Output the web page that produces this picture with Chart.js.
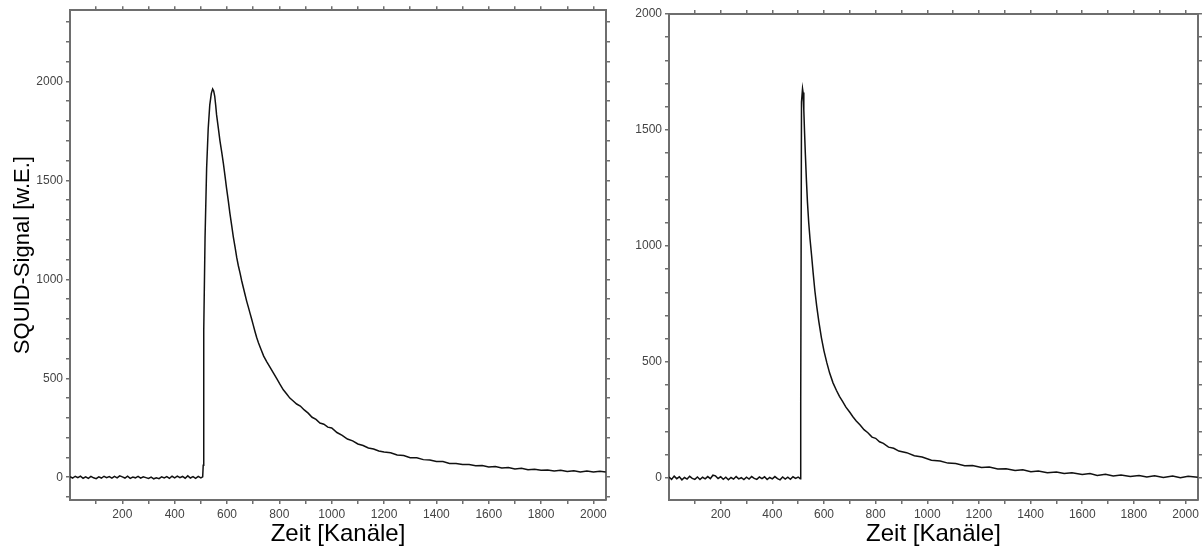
<!DOCTYPE html>
<html lang="de">
<head>
<meta charset="utf-8">
<title>SQUID-Signal</title>
<script src="https://cdn.jsdelivr.net/npm/chart.js@4.4.1/dist/chart.umd.min.js"></script>
<style>
    html, body { margin: 0; padding: 0; background: #fff; }
    #wrap { position: relative; width: 1202px; height: 550px; overflow: hidden; }
    #chartLinks { position: absolute; left: 0; top: 0; }
    #chartRechts { position: absolute; left: 620px; top: 0; }
</style>
</head>
<body>
<div id="wrap">
    <canvas id="chartLinks" width="620" height="550"></canvas>
    <canvas id="chartRechts" width="582" height="550"></canvas>
</div>
<script>
// linke Messung
const kanaeleLinks = [0, 10, 20, 30, 40, 50, 60, 70, 80, 90, 100, 110, 120, 130, 140, 150, 160, 170, 180, 190,
    200, 210, 220, 230, 240, 250, 260, 270, 280, 290, 300, 310, 320, 330, 340, 350, 360, 370, 380, 390,
    400, 410, 420, 430, 440, 450, 460, 470, 480, 490, 500, 507,
    509, 511, 516, 522, 528, 534, 540, 545, 549, 553, 557, 560, 567, 573, 580, 586, 592, 598, 605, 611,
    618, 624, 631, 637, 643, 650, 656, 662, 669, 675, 682, 688, 694, 700, 707, 713, 720, 730, 740, 752,
    764, 777, 790, 802, 815, 828, 840, 853, 866, 880, 895, 910, 925, 940, 955, 970, 985, 1000, 1020, 1040,
    1060, 1080, 1100, 1120, 1140, 1160, 1180, 1200, 1225, 1250, 1275, 1300, 1325, 1350, 1375, 1400, 1425, 1450, 1475, 1500,
    1525, 1550, 1575, 1600, 1625, 1650, 1675, 1700, 1725, 1750, 1775, 1800, 1825, 1850, 1875, 1900, 1925, 1950, 1975, 2000,
    2025, 2047];
const signalLinks = [3, -4, 5, -2, 6, -5, 2, -6, 4, -3, -7, 2, -4, 5, -2, 3, -5, 4, -3, 7,
    2, -4, 5, -6, 1, -3, 4, -5, 2, -2, -6, 1, -8, -3, -7, 2, -4, 3, -6, 5,
    -3, 6, -2, 4, -5, 7, -4, 3, -6, 4, -3, 2,
    60, 740, 1210, 1560, 1760, 1880, 1940, 1962, 1952, 1925, 1875, 1832, 1762, 1700, 1640, 1586, 1525, 1462, 1395, 1333,
    1270, 1215, 1160, 1111, 1070, 1030, 993, 960, 922, 890, 857, 828, 800, 770, 735, 707, 680, 645, 612, 583,
    556, 527, 498, 470, 442, 421, 400, 385, 370, 360, 340, 324, 303, 292, 274, 268, 253, 249, 226, 212,
    193, 184, 168, 160, 148, 143, 133, 128, 124, 112, 110, 99, 98, 89, 87, 80, 79, 70, 70, 65,
    64, 58, 59, 52, 54, 47, 49, 42, 45, 38, 40, 35, 37, 31, 35, 29, 33, 27, 31, 26,
    30, 26];

// rechte Messung
const kanaeleRechts = [0, 10, 20, 30, 40, 50, 60, 70, 80, 90, 100, 110, 120, 130, 140, 150, 160, 170, 180, 190,
    200, 210, 220, 230, 240, 250, 260, 270, 280, 290, 300, 310, 320, 330, 340, 350, 360, 370, 380, 390,
    400, 410, 420, 430, 440, 450, 460, 470, 480, 490, 500, 508,
    510, 513, 517, 519, 522, 525, 528, 532, 536, 541, 546, 552, 558, 565, 572, 580, 590, 600, 611, 622,
    635, 648, 660, 672, 685, 700, 712, 725, 740, 755, 770, 786, 800, 815, 830, 850, 870, 890, 920, 950,
    980, 1016, 1050, 1080, 1110, 1145, 1175, 1210, 1240, 1273, 1305, 1340, 1370, 1401, 1430, 1465, 1500, 1530, 1560, 1600,
    1630, 1658, 1690, 1720, 1750, 1786, 1820, 1850, 1880, 1914, 1950, 1980, 2010, 2047];
const signalRechts = [4, -6, 8, -3, 5, -8, 2, -5, 7, -2, -6, 4, -7, 3, -4, 6, -3, 12, 9, -2,
    5, -6, 3, -8, 2, -5, 6, -4, 1, -7, 3, -5, 6, -2, -6, 4, -3, 5, -7, 2,
    -4, 6, -3, -8, 4, -5, 3, -6, 5, -2, 4, -3,
    330, 1620, 1678, 1662, 1585, 1485, 1395, 1285, 1190, 1100, 1030, 960, 885, 805, 740, 675, 605, 548, 497, 452,
    410, 378, 352, 330, 305, 283, 264, 246, 228, 208, 195, 176, 171, 156, 149, 133, 128, 116, 109, 96,
    90, 76, 73, 64, 62, 53, 54, 45, 47, 39, 40, 32, 35, 27, 30, 23, 26, 19, 22, 15,
    19, 11, 16, 9, 13, 6, 11, 4, 9, 2, 8, 1, 7, 3];

// Achsen
const xMin = 0;
const xMax = 2048;
const xLabels = [200, 400, 600, 800, 1000, 1200, 1400, 1600, 1800, 2000];
const yLabels = [0, 500, 1000, 1500, 2000];
const yRangeLinks = [-115, 2360];
const yRangeRechts = [-95, 2000];

const axisColor = '#6e6e6e';
const tickFont = { family: 'Liberation Sans', size: 12 };

// Striche alle 100 Einheiten, selbst gesetzt (Chart.js verschiebt sonst den letzten Strich)
function hundreds(scale) {
    const ticks = [];
    for (let v = Math.ceil(scale.min / 100) * 100; v <= scale.max; v += 100) {
        if (v > scale.min) ticks.push({ value: v });
    }
    scale.ticks = ticks;
}

function toPoints(xs, ys) {
    const pts = [];
    for (let i = 0; i < xs.length; i++) {
        pts.push({ x: xs[i], y: ys[i] });
    }
    return pts;
}

function baseAxis(extra) {
    return Object.assign({
        type: 'linear',
        grid: { drawOnChartArea: false, drawTicks: true, tickLength: 4, color: axisColor, lineWidth: 1.5 },
        border: { display: true, color: axisColor, width: 2 },
        afterBuildTicks: hundreds
    }, extra);
}

function makeChart(id, xs, ys, yRange, sizes, yTitle) {
    const ctx = document.getElementById(id).getContext('2d');
    return new Chart(ctx, {
        type: 'line',
        data: {
            datasets: [{
                data: toPoints(xs, ys),
                borderColor: '#111',
                borderWidth: 1.5,
                pointRadius: 0,
                tension: 0,
                fill: false
            }]
        },
        options: {
            responsive: false,
            animation: false,
            devicePixelRatio: 1,
            layout: { padding: 0 },
            plugins: { legend: { display: false }, tooltip: { enabled: false } },
            scales: {
                x: baseAxis({
                    position: 'bottom', min: xMin, max: xMax,
                    ticks: {
                        autoSkip: false, maxRotation: 0, padding: 3,
                        color: '#444', font: tickFont,
                        callback: v => xLabels.includes(v) ? String(v) : ''
                    },
                    title: {
                        display: true, text: 'Zeit [Kanäle]', color: '#000',
                        font: { family: 'Liberation Sans', size: 24 }, padding: { top: 0, bottom: 1 }
                    },
                    afterFit: s => { s.height = sizes.bottom; }
                }),
                xTop: baseAxis({
                    position: 'top', min: xMin, max: xMax,
                    ticks: { autoSkip: false, maxRotation: 0, callback: () => '' },
                    afterFit: s => { s.height = sizes.top; }
                }),
                y: baseAxis({
                    position: 'left', min: yRange[0], max: yRange[1],
                    ticks: {
                        autoSkip: false, padding: 3,
                        color: '#444', font: tickFont,
                        callback: v => yLabels.includes(v) ? String(v) : ''
                    },
                    title: {
                        display: yTitle !== '', text: yTitle, color: '#000',
                        font: { family: 'Liberation Sans', size: 22 }, padding: { top: 10, bottom: 0 }
                    },
                    afterFit: s => { s.width = sizes.left; }
                }),
                yRight: baseAxis({
                    position: 'right', min: yRange[0], max: yRange[1],
                    ticks: { autoSkip: false, callback: () => '' },
                    afterFit: s => { s.width = sizes.right; }
                })
            }
        }
    });
}

makeChart('chartLinks', kanaeleLinks, signalLinks, yRangeLinks,
    { left: 70, right: 14, top: 10, bottom: 50 }, 'SQUID-Signal [w.E.]');
makeChart('chartRechts', kanaeleRechts, signalRechts, yRangeRechts,
    { left: 49, right: 1, top: 14, bottom: 50 }, '');
</script>
</body>
</html>
